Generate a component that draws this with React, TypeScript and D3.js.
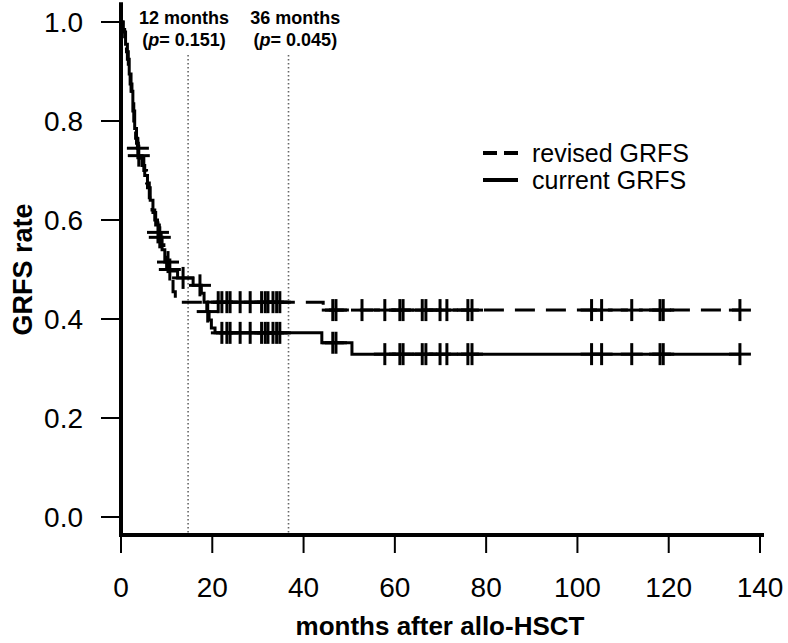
import React from "react";
import * as d3 from "d3";

const W = 788;
const H = 643;

// x ticks, y ticks
const xTicks = [0, 20, 40, 60, 80, 100, 120, 140];
const yTicks = [0, 0.2, 0.4, 0.6, 0.8, 1.0];

// Kaplan-Meier step data: [time (months), survival after step]
const revisedSteps: [number, number][] = [
  [0, 1.0], [0.4, 0.985], [0.8, 0.965], [1.2, 0.94], [1.6, 0.91], [2.0, 0.875],
  [2.4, 0.84], [2.8, 0.8], [3.2, 0.765], [3.6, 0.745], [4.4, 0.725], [5.0, 0.7],
  [5.6, 0.675], [6.2, 0.645], [6.8, 0.62], [7.4, 0.6], [8.0, 0.575], [8.8, 0.55],
  [9.4, 0.525], [10.0, 0.5], [10.8, 0.48], [11.4, 0.455], [11.9, 0.434],
  [44.3, 0.418],
];
const currentSteps: [number, number][] = [
  [0, 1.0], [0.5, 0.98], [1.0, 0.955], [1.4, 0.925], [1.8, 0.895], [2.2, 0.86],
  [2.6, 0.82], [3.0, 0.785], [3.4, 0.755], [3.8, 0.73], [4.6, 0.71], [5.2, 0.69],
  [5.8, 0.665], [6.4, 0.64], [7.0, 0.615], [7.6, 0.59], [8.4, 0.565], [9.0, 0.54],
  [9.6, 0.515], [10.4, 0.497], [12.4, 0.483], [15.8, 0.468], [17.6, 0.452],
  [18.2, 0.434], [18.8, 0.415], [19.3, 0.398], [19.8, 0.382], [20.6, 0.372],
  [44.0, 0.352], [50.6, 0.329],
];
const revisedEnd = 135.6;
const currentEnd = 135.6;

// censoring times
const revisedCensor = [
  3.7, 8.1, 10.7, 21.3, 22.1, 23.2, 23.9, 26.1, 28.3, 30.8, 31.6, 32.2, 33.3, 34.1,
  34.8, 46.4, 47.1, 52.8, 57.8, 61.1, 61.8, 66.0, 66.8, 69.9, 71.4, 76.0, 76.9,
  103.1, 105.3, 111.9, 118.1, 118.8, 135.6,
];
const currentCensor = [
  3.9, 8.5, 10.3, 13.6, 17.3, 19.0, 22.1, 23.2, 23.9, 26.1, 28.3, 30.8, 31.6, 32.2,
  33.3, 34.1, 34.8, 46.4, 47.1, 57.8, 61.1, 61.8, 66.0, 66.8, 69.9, 71.4, 76.0,
  76.9, 103.1, 105.3, 111.9, 118.1, 118.8, 135.6,
];

const refLines = [14.7, 36.7];
const refLabelAt = [13.8, 38.2];
const refLabels = [
  { l1: "12 months", p: "0.151" },
  { l1: "36 months", p: "0.045" },
];
const legendItems = [
  { label: "revised GRFS", dash: "20,11" },
  { label: "current GRFS", dash: "none" },
];

const x = d3.scaleLinear().domain([0, 140]).range([121, 760]);
const y = d3.scaleLinear().domain([0, 1]).range([517, 22]);

function stepPath(steps: [number, number][], end: number): string {
  const pts: [number, number][] = steps.map((s) => [s[0], s[1]]);
  pts.push([end, steps[steps.length - 1][1]]);
  const line = d3
    .line<[number, number]>()
    .x((d) => x(d[0]))
    .y((d) => y(d[1]))
    .curve(d3.curveStepAfter);
  return line(pts) || "";
}

function survAt(steps: [number, number][], t: number): number {
  let v = 1;
  for (const s of steps) {
    if (s[0] <= t) v = s[1];
  }
  return v;
}

const FONT = "'Liberation Sans', Arial, Helvetica, sans-serif";

export default function App() {
  const axisY = 535;
  const tickLen = 18;
  const cs = 11;
  return (
    <svg width={W} height={H} style={{ position: "absolute", left: 0, top: 0, background: "#fff" }} fontFamily={FONT}>
      <rect width={W} height={H} fill="#fff" />
      {/* reference dotted lines */}
      {refLines.map((t, i) => (
        <line key={i} x1={x(t)} x2={x(t)} y1={55} y2={axisY} stroke="#666" strokeWidth={1.6} strokeDasharray="1.6,2.4" />
      ))}
      {refLabels.map((r, i) => (
        <g key={i} fontWeight="bold" fontSize={18} textAnchor="middle">
          <text x={x(refLabelAt[i])} y={24}>{r.l1}</text>
          <text x={x(refLabelAt[i])} y={46}>
            (<tspan fontStyle="italic">p</tspan>= {r.p})
          </text>
        </g>
      ))}
      {/* curves */}
      <path d={stepPath(currentSteps, currentEnd)} fill="none" stroke="#000" strokeWidth={3} />
      <path d={stepPath(revisedSteps, revisedEnd)} fill="none" stroke="#000" strokeWidth={3} strokeDasharray="20,11" />
      {currentCensor.map((t, i) => {
        const cx = x(t), cy = y(survAt(currentSteps, t));
        return (
          <g key={"c" + i} stroke="#000" strokeWidth={3}>
            <line x1={cx - cs} x2={cx + cs} y1={cy} y2={cy} />
            <line x1={cx} x2={cx} y1={cy - cs} y2={cy + cs} />
          </g>
        );
      })}
      {revisedCensor.map((t, i) => {
        const cx = x(t), cy = y(survAt(revisedSteps, t));
        return (
          <g key={"r" + i} stroke="#000" strokeWidth={3}>
            <line x1={cx - cs} x2={cx + cs} y1={cy} y2={cy} />
            <line x1={cx} x2={cx} y1={cy - cs} y2={cy + cs} />
          </g>
        );
      })}
      {/* axes */}
      <line x1={x(0)} x2={x(140) + 4} y1={axisY} y2={axisY} stroke="#000" strokeWidth={4} />
      <line x1={x(0)} x2={x(0)} y1={axisY + 2} y2={y(1.04)} stroke="#000" strokeWidth={4} />
      {xTicks.map((t) => (
        <g key={"xt" + t}>
          <line x1={x(t)} x2={x(t)} y1={axisY} y2={axisY + tickLen} stroke="#000" strokeWidth={2} />
          <text x={x(t)} y={597} fontSize={28} textAnchor="middle">{t}</text>
        </g>
      ))}
      {yTicks.map((t) => (
        <g key={"yt" + t}>
          <line x1={x(0)} x2={x(0) - 20} y1={y(t)} y2={y(t)} stroke="#000" strokeWidth={2} />
          <text x={83} y={y(t) + 10} fontSize={28} textAnchor="end">{t.toFixed(1)}</text>
        </g>
      ))}
      <text x={440} y={635} fontSize={26} fontWeight="bold" textAnchor="middle">months after allo-HSCT</text>
      <text transform={`translate(32,${y(0.5)}) rotate(-90)`} fontSize={27} fontWeight="bold" textAnchor="middle">GRFS rate</text>
      {/* legend */}
      {legendItems.map((it, i) => (
        <g key={"lg" + i}>
          <line x1={483} x2={518} y1={153 + i * 27} y2={153 + i * 27} stroke="#000" strokeWidth={4} strokeDasharray={it.dash === "none" ? undefined : "14,7"} />
          <text x={532} y={162 + i * 27} fontSize={25}>{it.label}</text>
        </g>
      ))}
    </svg>
  );
}
